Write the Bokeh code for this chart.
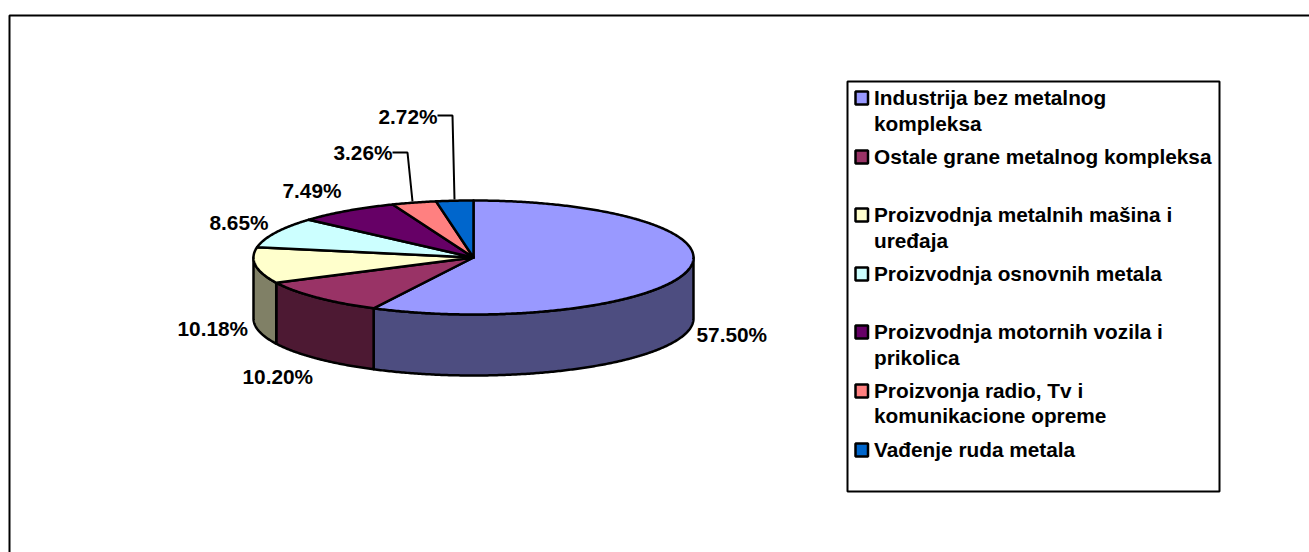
import math
from bokeh.plotting import figure
from bokeh.embed import file_html
from bokeh.resources import INLINE
from bokeh.core.properties import value

# ---- data ----
categories = [
    "Industrija bez metalnog\nkompleksa",
    "Ostale grane metalnog kompleksa",
    "Proizvodnja metalnih mašina i\nuređaja",
    "Proizvodnja osnovnih metala",
    "Proizvodnja motornih vozila i\nprikolica",
    "Proizvonja radio, Tv i\nkomunikacione opreme",
    "Vađenje ruda metala",
]
values = [57.50, 10.20, 10.18, 8.65, 7.49, 3.26, 2.72]
top_colors = ["#9999FF", "#993366", "#FFFFCC", "#CCFFFF", "#660066", "#FF8080", "#0066CC"]
side_colors = ["#4D4D80", "#4D1933", "#808066", "#668080", "#330033", "#804040", "#003366"]

# ---- layout (picture pixels) ----
CX, CY, RX, RY, DEPTH = 473.0, 257.0, 220.0, 57.0, 61.0
FONT = "Liberation Sans"
LABEL_PX = "20.8px"
LEGEND_PX = "20.8px"
TEXT_DY = -8
label_anchor = [(696, 342), (242, 384), (177, 336), (209, 230), (282, 198), (333, 160), (378, 124)]
leaders = {5: ([392, 407, 412], [152, 152, 201]), 6: ([437, 452, 454], [115, 115, 199])}
legend_baselines = [[105, 131], [164], [222, 248], [281], [339, 365], [398, 423], [457]]
legend_swatch_tops = [91, 150, 208, 267, 325, 384, 443]

p = figure(width=1309, height=552, x_range=(0, 1309), y_range=(552, 0),
           output_backend="svg", toolbar_location=None, min_border=0,
           outline_line_color=None, background_fill_color="white", border_fill_color="white")
p.axis.visible = False
p.grid.visible = False

# outer chart frame (clipped by the page at right and bottom)
p.line([9, 9, 1309], [552, 15, 15], line_color="black", line_width=2)


def pt(frac):
    a = 2 * math.pi * frac
    return CX + RX * math.sin(a), CY - RY * math.cos(a)


def arc(f0, f1):
    n = max(2, int(abs(f1 - f0) * 720))
    return [pt(f0 + (f1 - f0) * i / n) for i in range(n + 1)]


total = sum(values)
bounds = [0.0]
for v in values:
    bounds.append(bounds[-1] + v / total)

# sides (front half only: fraction 0.25 .. 0.75)
for i in range(len(values)):
    f0, f1 = max(bounds[i], 0.25), min(bounds[i + 1], 0.75)
    if f1 <= f0:
        continue
    a = arc(f0, f1)
    xs = [q[0] for q in a] + [q[0] for q in reversed(a)]
    ys = [q[1] for q in a] + [q[1] + DEPTH for q in reversed(a)]
    p.patch(xs, ys, fill_color=side_colors[i], line_color="black", line_width=2.5, line_join="round")

# top face
for i in range(len(values)):
    a = arc(bounds[i], bounds[i + 1])
    xs = [CX] + [q[0] for q in a]
    ys = [CY] + [q[1] for q in a]
    p.patch(xs, ys, fill_color=top_colors[i], line_color="black", line_width=2.5, line_join="round")

# leaders
for xs, ys in leaders.values():
    p.line(xs, ys, line_color="black", line_width=2)

# data labels
for v, (x, y) in zip(values, label_anchor):
    p.text([x], [y + TEXT_DY], text=[f"{v:.2f}%"], text_font=value(FONT), text_font_style="bold",
           text_font_size=LABEL_PX, text_color="black", text_baseline="alphabetic", text_align="left")

# legend
p.quad(left=[847], right=[1219], top=[81], bottom=[491], fill_color="white", line_color="black", line_width=2)
for cat, col, top, bases in zip(categories, top_colors, legend_swatch_tops, legend_baselines):
    p.quad(left=[855], right=[867.5], top=[top], bottom=[top + 13], fill_color=col, line_color="black", line_width=2.5)
    for line, b in zip(cat.split("\n"), bases):
        p.text([873.5], [b + TEXT_DY], text=[line], text_font=value(FONT), text_font_style="bold",
               text_font_size=LEGEND_PX, text_color="black", text_baseline="alphabetic", text_align="left")

open("out.html", "w").write(file_html(p, INLINE))
